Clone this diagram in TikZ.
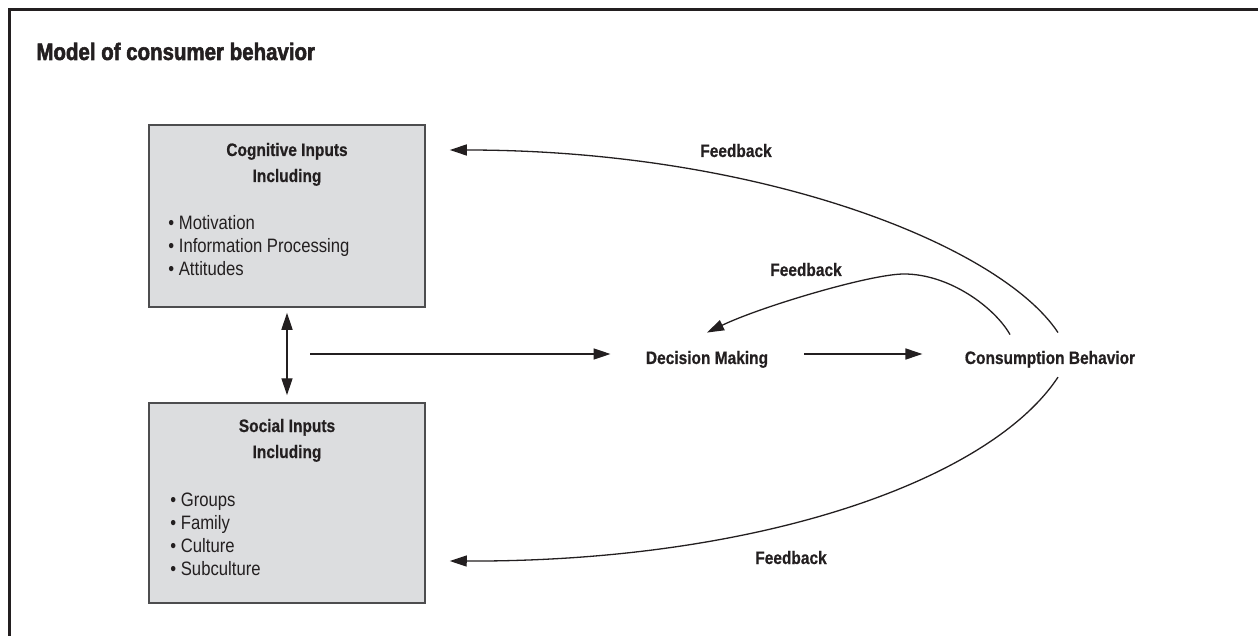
\documentclass[tikz,border=0pt]{standalone}
\usepackage{fontspec}
\setmainfont{Liberation Sans}[FakeStretch=0.86]
\newfontfamily\heavyfont{Liberation Sans}[FakeStretch=0.86, FakeBold=2.2]
\newfontfamily\labelfont{Liberation Sans}[FakeStretch=0.86, FakeBold=0.6]
\usetikzlibrary{arrows.meta,calc}

\definecolor{ink}{HTML}{231F20}
\definecolor{boxfill}{HTML}{DCDDDF}
\definecolor{boxline}{HTML}{4D4D4F}

\tikzset{
  inbox/.style={draw=boxline, fill=boxfill, line width=0.75pt, inner sep=0pt},
  lbl/.style={font=\labelfont\bfseries\fontsize{9}{13}\selectfont, text=ink, inner sep=0pt},
  item/.style={font=\fontsize{9.7}{11.5}\selectfont, text=ink, inner sep=0pt, anchor=base west},
  arr/.style={draw=ink, line width=0.7pt, -{Triangle[length=8.5pt,width=5.5pt]}},
  dblarr/.style={draw=ink, line width=0.7pt, {Triangle[length=8.5pt,width=5.5pt]}-{Triangle[length=8.5pt,width=5.5pt]}},
  fb/.style={draw=ink, line width=0.65pt, -{Triangle[length=8.5pt,width=5.5pt]}}
}

\begin{document}
\begin{tikzpicture}[x=0.5pt, y=-0.5pt]

\useasboundingbox (0,0) rectangle (1258,636);

% frame
\draw[ink, line width=1.5pt] (9,636) -- (9,10) -- (1258,10);

\node[font=\heavyfont\bfseries\fontsize{11.9}{14}\selectfont, text=ink, inner sep=0pt, anchor=base west] (title) at (36,60) {Model of consumer behavior};

% input boxes
\node[inbox, minimum width=138pt, minimum height=91pt] (cog) at (287,216) {};
\node[inbox, minimum width=138pt, minimum height=100pt] (soc) at (287,503) {};

\node[lbl, anchor=base] (cogt) at (287,156) {Cognitive Inputs};
\node[lbl, anchor=base] (cogi) at (287,182) {Including};
\foreach \t [count=\i] in {Motivation, Information Processing, Attitudes}
  \node[item] (cog\i) at (168,207+23*\i) {\textbullet{} \t};

\node[lbl, anchor=base] (soct) at (287,432) {Social Inputs};
\node[lbl, anchor=base] (soci) at (287,458) {Including};
\foreach \t [count=\i] in {Groups, Family, Culture, Subculture}
  \node[item] (soc\i) at (170,483+23*\i) {\textbullet{} \t};

% middle row
\node[lbl, anchor=base] (dm) at (707,364) {Decision Making};
\node[lbl, anchor=base] (cb) at (1050,364) {Consumption Behavior};

\coordinate (split) at (310,354);

\draw[dblarr] ($(cog.south)+(0,5)$) -- ($(soc.north)+(0,-7)$);
\draw[arr] (split) -- ($(split -| dm.west)+(-35,0)$);
\draw[arr] ($(split -| dm.east)+(36,0)$) -- ($(split -| cb.west)+(-42,0)$);

% feedback loops
\draw[fb] ($(cb.north)+(8,-18)$) .. controls (1000,245) and (760,150) .. ($(cog.east)+(24,-66)$);
\draw[fb] ($(cb.north)+(-40,-16)$) .. controls (995,308) and (950,274) .. (904,274)
  .. controls (870,274) and (760,307) .. ($(dm.north)+(0,-18)$);
\draw[fb] ($(cb.south)+(8,9)$) .. controls (990,480) and (760,562) .. ($(soc.east)+(24,58)$);

\node[lbl, anchor=base] (fb1) at (736,157) {Feedback};
\node[lbl, anchor=base] (fb2) at (806,276) {Feedback};
\node[lbl, anchor=base] (fb3) at (791,564) {Feedback};

\end{tikzpicture}
\end{document}
